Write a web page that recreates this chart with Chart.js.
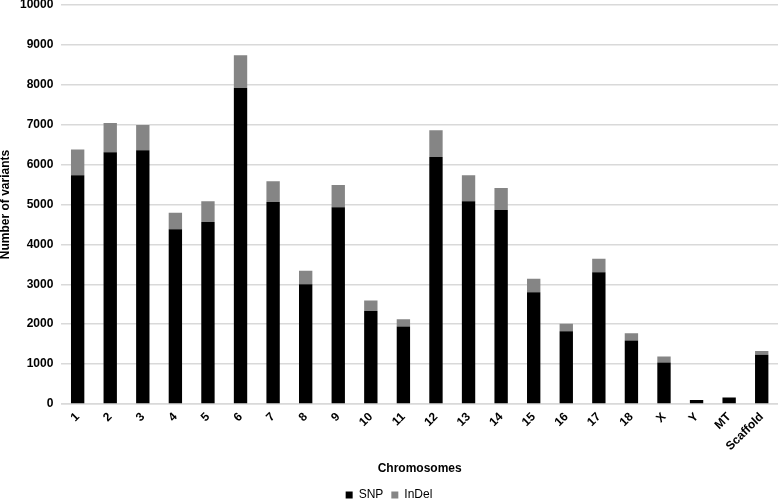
<!DOCTYPE html>
<html>
<head>
<meta charset="utf-8">
<script src="https://cdn.jsdelivr.net/npm/chart.js@4.4.0/dist/chart.umd.min.js"></script>
<style>
  html, body { margin: 0; padding: 0; background: #fff; }
  #wrap { width: 778px; height: 502px; }
</style>
</head>
<body>
<div id="wrap"><canvas id="canvas" width="778" height="502"></canvas></div>
<script>
// chromosome names
var chromosomes = ['1','2','3','4','5','6','7','8','9','10','11','12','13','14','15','16','17','18','X','Y','MT','Scaffold'];
// SNP counts per chromosome
var snp = [5730, 6310, 6360, 4380, 4560, 7920, 5060, 3000, 4930, 2330, 1940, 6190, 5080, 4860, 2800, 1820, 3300, 1590, 1040, 100, 160, 1230];
// InDel counts (stacked on top of SNP)
var indel = [650, 730, 630, 410, 520, 820, 520, 340, 560, 260, 180, 670, 650, 550, 340, 190, 340, 180, 150, 0, 0, 100];
// y axis ticks
var yMax = 10000;
var yStep = 1000;

var fontFam = "'Liberation Sans', Arial, sans-serif";

var config = {
  type: 'bar',
  data: {
    labels: chromosomes,
    datasets: [
      { label: 'SNP', data: snp, backgroundColor: '#000000', barPercentage: 0.41, categoryPercentage: 1.0 },
      { label: 'InDel', data: indel, backgroundColor: '#858585', barPercentage: 0.41, categoryPercentage: 1.0 }
    ]
  },
  options: {
    responsive: false,
    animation: false,
    layout: { padding: { top: 5, right: 0, left: 0, bottom: -9 } },
    plugins: {
      legend: {
        position: 'bottom',
        labels: {
          boxWidth: 7, boxHeight: 7, padding: 8,
          color: '#000',
          font: { family: fontFam, size: 12 }
        }
      },
      tooltip: { enabled: false }
    },
    scales: {
      x: {
        stacked: true,
        grid: { display: false, drawTicks: false },
        border: { color: '#d9d9d9', width: 1.5 },
        ticks: {
          color: '#000', maxRotation: 45, minRotation: 45, padding: 6,
          font: { family: fontFam, size: 12, weight: 'bold' }
        },
        title: {
          display: true, text: 'Chromosomes', color: '#000',
          font: { family: fontFam, size: 12, weight: 'bold' },
          padding: { top: 2, bottom: 5 }
        }
      },
      y: {
        stacked: true,
        min: 0, max: yMax,
        // let the top tick label sit right at the top edge like the original
        afterFit: function (scale) { scale.paddingTop = 0; },
        grid: { color: '#d9d9d9', lineWidth: 1.5, drawTicks: false },
        border: { display: false },
        ticks: {
          stepSize: yStep, color: '#000', padding: 8,
          callback: function (v) { return String(v); },
          font: { family: fontFam, size: 12, weight: 'bold' }
        },
        title: {
          display: true, text: 'Number of variants', color: '#000',
          font: { family: fontFam, size: 12, weight: 'bold', lineHeight: 1 },
          padding: 0
        }
      }
    }
  }
};

new Chart(document.getElementById('canvas'), config);
</script>
</body>
</html>
